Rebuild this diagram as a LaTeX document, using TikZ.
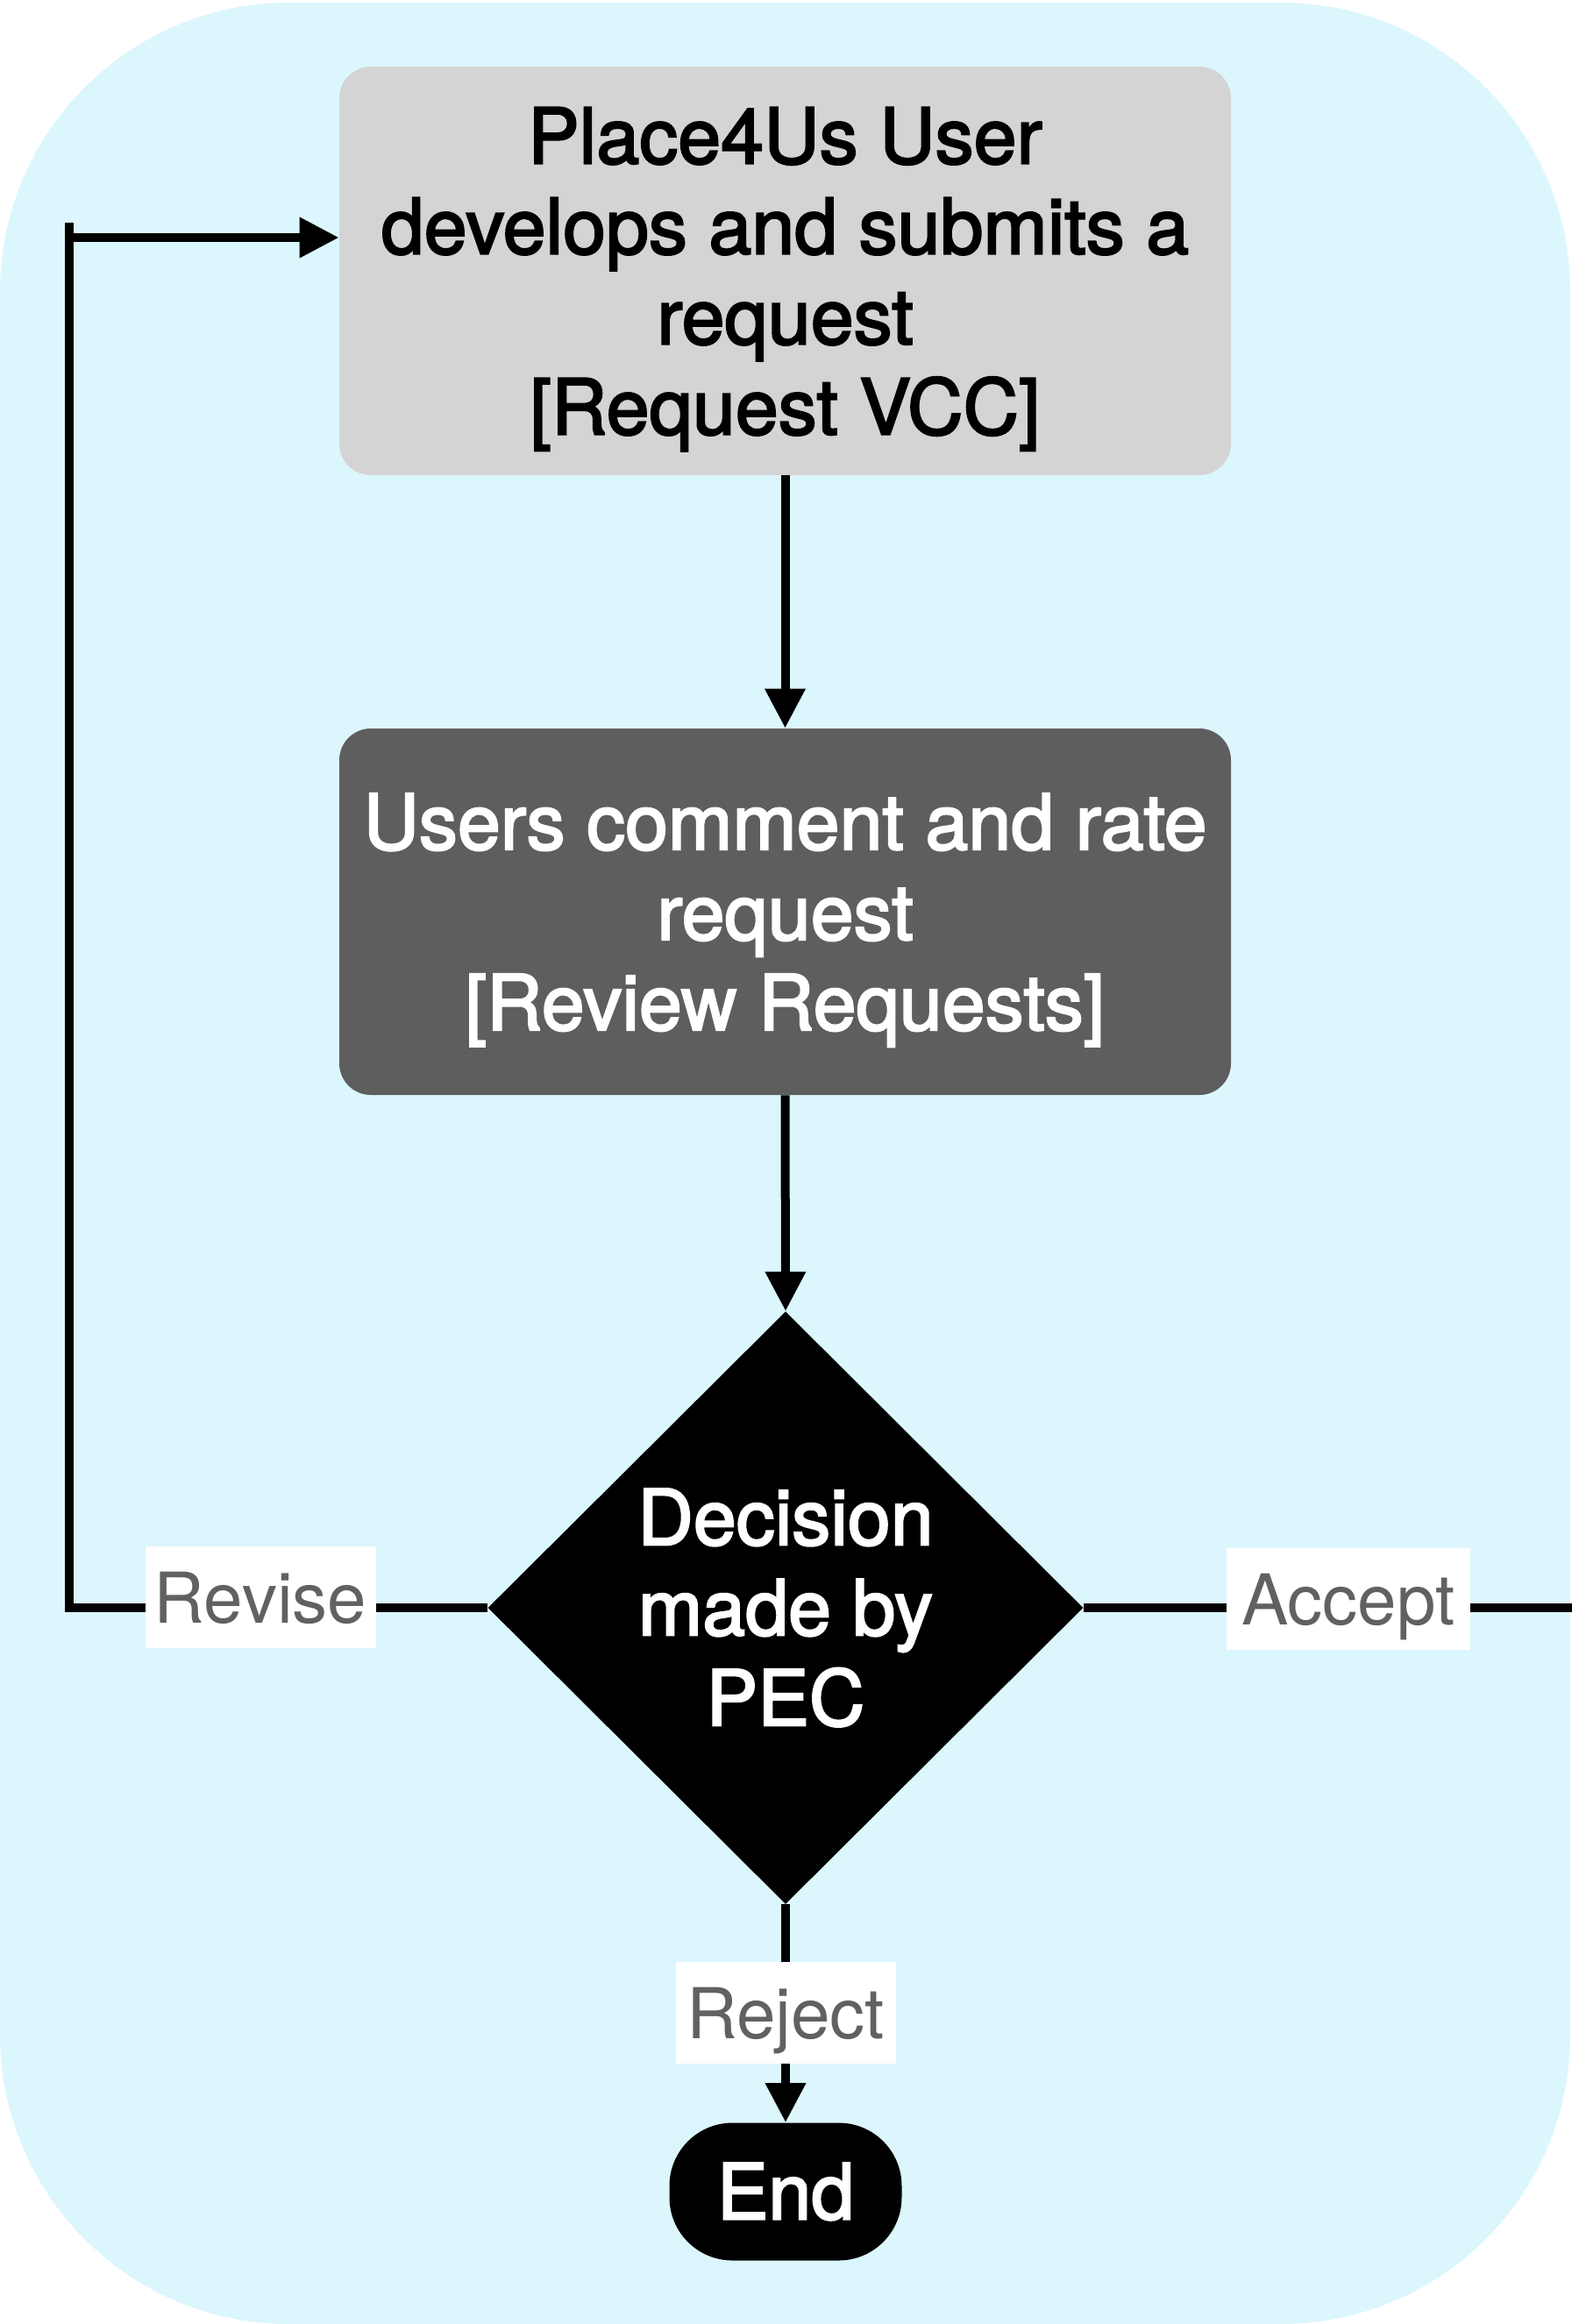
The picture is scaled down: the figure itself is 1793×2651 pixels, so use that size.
\documentclass[tikz,border=0pt]{standalone}
\usepackage{fontspec}
\setmainfont{TeX Gyre Heros}
\newfontfamily\medfont{TeX Gyre Heros}[FakeBold=2.5]
\usetikzlibrary{shapes.geometric,arrows.meta,calc}
\definecolor{bgcyan}{RGB}{220,246,253}
\definecolor{boxlight}{RGB}{212,212,212}
\definecolor{boxdark}{RGB}{94,94,94}
\definecolor{labelgray}{RGB}{97,97,97}
\begin{document}
\begin{tikzpicture}[x=0.5pt,y=-0.5pt,
  nodefont/.style={font=\medfont\fontsize{44}{51.5}\selectfont},
  procbox/.style={nodefont, rounded corners=18pt, minimum width=508.5pt, align=center, inner sep=0pt},
  lbl/.style={fill=white, text=labelgray, font=\fontsize{40}{48}\selectfont, minimum height=58pt, inner sep=0pt, text depth=0pt},
  conn/.style={line width=5pt, draw=black, line join=miter},
  arr/.style={-{Triangle[length=22.5pt,width=22pt]}}]
\useasboundingbox (0,0) rectangle (1793,2651);
\fill[bgcyan, rounded corners=165pt] (0,3) rectangle (1791,2651);

\node[procbox, fill=boxlight, text=black, minimum height=233pt, text depth=0pt] (box1) at (895.5,309)
  {Place4Us User\\develops and submits a\\request\\{}[Request VCC]};
\node[procbox, fill=boxdark, text=white, minimum height=209pt, text depth=-3pt] (box2) at (895.5,1040)
  {Users comment and rate\\request\\{}[Review Requests]};
\node[diamond, fill=black, text=white, nodefont, align=center, inner sep=0pt,
  minimum width=339.5pt, minimum height=338pt] (dec) at (896,1834) {Decision\\made by\\PEC};
\node[fill=black, text=white, nodefont, rounded corners=36pt, inner sep=0pt,
  minimum width=132.5pt, minimum height=78.5pt] (end) at (896,2500) {End};

\coordinate (loopBot) at (79,1834);
\coordinate (loopTick) at (79,254);
\coordinate (loopTop) at (79,271);
\coordinate (acceptEnd) at (1793,1834);

\draw[conn,arr] (box1.south) -- (box2.north);
\draw[conn,arr] (box2.south) -- (dec.north);
\draw[conn,arr] (dec.south) -- (end.north);
\draw[conn] (dec.east) -- (acceptEnd);
\draw[conn,arr] (dec.west) -- (loopBot) -- (loopTick) (loopTop) -- (box1.west |- loopTop);

\node[lbl, minimum width=131.5pt] (revise) at (297,1822) {Revise};
\node[lbl, minimum width=139pt] (accept) at (1538,1824) {Accept};
\node[lbl, minimum width=125.5pt] (reject) at (896,2296) {Reject};
\end{tikzpicture}
\end{document}
